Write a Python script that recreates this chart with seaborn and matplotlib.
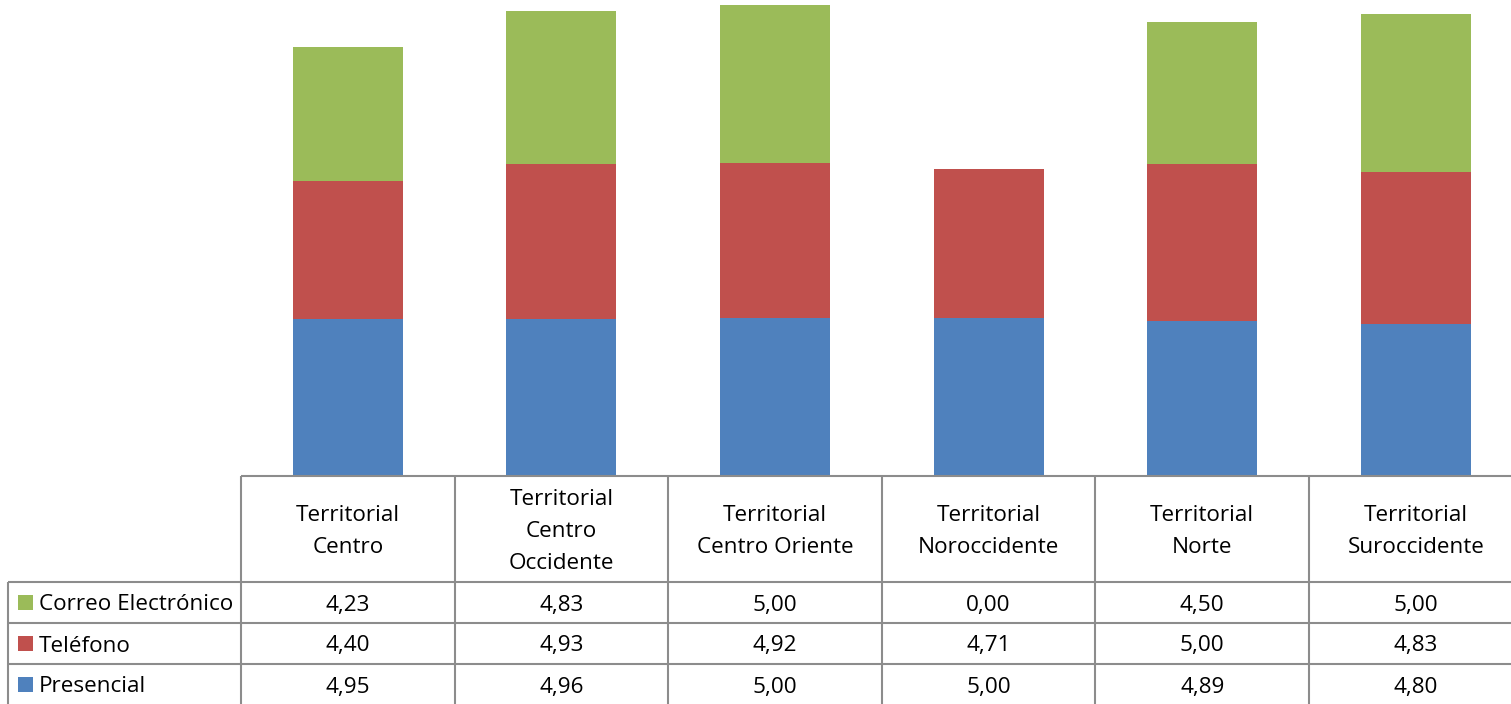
import numpy as np
import pandas as pd
import matplotlib
matplotlib.use("Agg")
import matplotlib.pyplot as plt
from matplotlib.patches import Rectangle
import seaborn as sns

# ---- data ----
regions = ["Territorial Centro", "Territorial Centro Occidente", "Territorial Centro Oriente",
           "Territorial Noroccidente", "Territorial Norte", "Territorial Suroccidente"]
header_labels = ["Territorial\nCentro", "Territorial\nCentro\nOccidente", "Territorial\nCentro Oriente",
                 "Territorial\nNoroccidente", "Territorial\nNorte", "Territorial\nSuroccidente"]
presencial = [4.95, 4.96, 5.00, 5.00, 4.89, 4.80]
telefono = [4.40, 4.93, 4.92, 4.71, 5.00, 4.83]
correo = [4.23, 4.83, 5.00, 0.00, 4.50, 5.00]
series_names = ["Correo Electrónico", "Teléfono", "Presencial"]

c_blue, c_red, c_green = "#4F81BD", "#C0504D", "#9BBB59"
line_c = "#8C8C8C"

sns.set_theme(style="white")
plt.rcParams["font.family"] = ["Open Sans", "DejaVu Sans"]

df = pd.DataFrame({"region": regions, "presencial": presencial,
                   "telefono": telefono, "correo": correo})
df["lvl1"] = df["presencial"]
df["lvl2"] = df["presencial"] + df["telefono"]
df["lvl3"] = df["lvl2"] + df["correo"]

W, H = 1511, 704
fig = plt.figure(figsize=(W / 100, H / 100), dpi=100)

col_left = 241.0
col_w = 213.6
n = len(regions)
base_y = 475.5
top_y = 2.5

ax = fig.add_axes([col_left / W, 1 - base_y / H, n * col_w / W, (base_y - top_y) / H])
# stacked columns drawn as cumulative layers, top layer first
for col, color in [("lvl3", c_green), ("lvl2", c_red), ("lvl1", c_blue)]:
    sns.barplot(data=df, x="region", y=col, color=color, saturation=1, width=0.515,
                errorbar=None, linewidth=0, ax=ax)
ax.set_xlim(-0.5, n - 0.5)
ax.set_ylim(0, 15)
ax.axis("off")

# ---- data table ----
tax = fig.add_axes([0, 0, 1, 1])
tax.set_xlim(0, W)
tax.set_ylim(H, 0)
tax.axis("off")
tax.patch.set_visible(False)

lw = 1.5
left_x = 8
head_bot = 582
row_edges = [582, 623, 664, 705]
right_x = col_left + n * col_w

tax.plot([col_left, right_x], [base_y, base_y], color=line_c, lw=lw, solid_capstyle="butt")
for y in row_edges[:-1]:
    tax.plot([left_x, right_x], [y, y], color=line_c, lw=lw, solid_capstyle="butt")
for i in range(n + 1):
    x = col_left + i * col_w
    tax.plot([x, x], [base_y, H + 2], color=line_c, lw=lw, solid_capstyle="butt")
tax.plot([left_x, left_x], [head_bot, H + 2], color=line_c, lw=lw, solid_capstyle="butt")

fs = 16.2
for i, lab in enumerate(header_labels):
    xc = col_left + (i + 0.5) * col_w
    tax.text(xc, (base_y + head_bot) / 2 + 3, lab, ha="center", va="center",
             fontsize=fs, color="black", linespacing=1.7)

rows = [(series_names[0], correo, c_green),
        (series_names[1], telefono, c_red),
        (series_names[2], presencial, c_blue)]
for r, (name, vals, color) in enumerate(rows):
    yc = (row_edges[r] + row_edges[r + 1]) / 2
    tax.add_patch(Rectangle((18, yc - 7.5), 15, 15, facecolor=color, edgecolor="none"))
    tax.text(39, yc + 8, name, ha="left", va="baseline", fontsize=fs, color="black")
    for i, v in enumerate(vals):
        xc = col_left + (i + 0.5) * col_w
        tax.text(xc, yc + 8, f"{v:.2f}".replace(".", ","), ha="center", va="baseline",
                 fontsize=fs, color="black")

fig.savefig("out.png", dpi=100)
